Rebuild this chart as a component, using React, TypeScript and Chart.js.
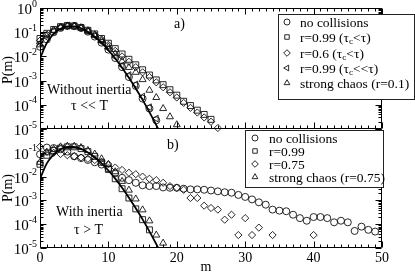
import React, { useEffect, useRef } from "react";
import { Chart, registerables } from "chart.js";
Chart.register(...registerables);

const FONT = "'Liberation Serif', 'Times New Roman', 'DejaVu Serif', serif";

// ---------- data ----------
const theoryM = [0, 0.25, 0.5, 1, 1.5, 2, 3, 4, 5, 6, 7, 8, 9, 10, 11, 12, 13, 14, 15, 16, 17, 18];
const theoryP = [0.008, 0.012, 0.018, 0.036, 0.058, 0.085, 0.14, 0.175, 0.175, 0.146, 0.104, 0.065, 0.036, 0.018, 0.0082, 0.0034, 0.0013, 0.00047, 0.00016, 0.00005, 0.0000145, 0.000004];

// panel a (m = 0, 1, 2, ...)
const aNoCollisions = [0.025, 0.05, 0.1, 0.15, 0.18, 0.18, 0.15, 0.105, 0.066, 0.037, 0.019, 0.0085, 0.0036, 0.0014, 0.0006, 0.00018, 0.00007, 0.000023];
const aR099 = [0.055, 0.09, 0.13, 0.17, 0.19, 0.18, 0.155, 0.12, 0.085, 0.055, 0.035, 0.021, 0.0126, 0.0076, 0.0045, 0.0028, 0.0017, 0.00107, 0.00068, 0.00042, 0.00025, 0.00014, 0.000093, 0.00006, 0.00004, 0.000025];
const aR06 = [0.045, 0.08, 0.12, 0.16, 0.18, 0.175, 0.15, 0.115, 0.08, 0.05, 0.03, 0.017, 0.01, 0.006, 0.0036, 0.0022, 0.0014, 0.00085, 0.00053, 0.00033, 0.0002, 0.00012, 0.000075, 0.000048, 0.00003, 0.00002, 0.000011];
const aR099short = [0.035, 0.06, 0.11, 0.16, 0.19, 0.185, 0.155, 0.11, 0.07, 0.04, 0.021, 0.0095, 0.0042, 0.0017, 0.0007, 0.00022, 0.00008, 0.000027];
const aStrongChaos = [0.03, 0.07, 0.12, 0.16, 0.18, 0.18, 0.155, 0.115, 0.075, 0.045, 0.025, 0.013, 0.0063, 0.0035, 0.0022, 0.0011, 0.0004, 0.0002, 0.00007, 0.000032, 0.000015];

// panel b
const bNoCollisions = [0.087, 0.166, 0.158, 0.141, 0.112, 0.071, 0.06, 0.05, 0.04, 0.032, 0.022, 0.014, 0.0089, 0.0071, 0.0055, 0.0043, 0.004, 0.004, 0.0035, 0.0034, 0.0034, 0.0031, 0.0029, 0.0029, 0.0028, 0.0026, 0.0024, 0.0022, 0.0021, 0.0017, 0.0014, 0.0011, 0.00083, 0.00066, 0.00041, 0.00037, 0.00035, 0.00025, 0.00018, 0.00014, 0.0002, 0.0002, 0.00018, 0.00012, 0.00014, 0.00012, 0.000052, 0.000079, 0.000058, 0.000049];
const bR099 = [0.033, 0.079, 0.126, 0.158, 0.178, 0.178, 0.15, 0.112, 0.071, 0.04, 0.02, 0.0081, 0.0031, 0.00126, 0.00044, 0.000155, 0.000058];
const bR075 = [0.18, 0.11, 0.1, 0.089, 0.079, 0.071, 0.063, 0.056, 0.05, 0.042, 0.033, 0.024, 0.019, 0.0145, 0.0126, 0.01, 0.0081, 0.0071, 0.0055, 0.004, 0.0034, 0.0028, 0.00126, 0.00126, 0.0006, 0.00048, 0.00041, 0.000155, 0.00025, 0.000035, 0.00018, 0.000035, 0.000072, null, 0.000035, null, null, null, null, null, 0.000035];
const bStrongChaos = [0.04, 0.1, 0.141, 0.178, 0.19, 0.19, 0.166, 0.126, 0.089, 0.056, 0.032, 0.016, 0.0063, 0.0027, 0.00115, 0.0004, 0.000138, 0.000035, 0.000016];

const xTickLabels = ["0", "10", "20", "30", "40", "50"];
const legendA = ["no collisions", "r=0.99 (τ_c<τ)", "r=0.6 (τ_c<τ)", "r=0.99 (τ_c<<τ)", "strong chaos (r=0.1)"];
const legendB = ["no collisions", "r=0.99", "r=0.75", "strong chaos (r=0.75)"];

// ---------- helpers ----------
const pts = (arr: (number | null)[]) =>
  arr.map((v, i) => (v == null ? null : { x: i, y: v })).filter(Boolean) as { x: number; y: number }[];

const marker = (data: (number | null)[], style: string, radius: number, rotation = 0) => ({
  data: pts(data),
  showLine: false,
  pointStyle: style,
  pointRadius: radius,
  pointRotation: rotation,
  pointBorderColor: "#111",
  pointBackgroundColor: "rgba(0,0,0,0)",
  pointBorderWidth: 0.9,
  clip: 8,
});

const theoryLine = () => ({
  data: theoryM.map((m, i) => ({ x: m, y: theoryP[i] })),
  showLine: true,
  borderColor: "#000",
  borderWidth: 1.8,
  pointRadius: 0,
  cubicInterpolationMode: "monotone",
  clip: 0,
});

function sym(ctx: CanvasRenderingContext2D, kind: string, x: number, y: number, s: number) {
  ctx.beginPath();
  if (kind === "circle") ctx.arc(x, y, s, 0, Math.PI * 2);
  else if (kind === "square") ctx.rect(x - s * 0.8, y - s * 0.8, s * 1.6, s * 1.6);
  else if (kind === "diamond") {
    ctx.moveTo(x, y - s); ctx.lineTo(x + s, y); ctx.lineTo(x, y + s); ctx.lineTo(x - s, y); ctx.closePath();
  } else if (kind === "tri") {
    ctx.moveTo(x, y - s); ctx.lineTo(x + s * 0.87, y + s * 0.5); ctx.lineTo(x - s * 0.87, y + s * 0.5); ctx.closePath();
  } else if (kind === "ltri") {
    ctx.moveTo(x - s, y); ctx.lineTo(x + s * 0.5, y - s * 0.87); ctx.lineTo(x + s * 0.5, y + s * 0.87); ctx.closePath();
  }
  ctx.stroke();
}

function richText(ctx: CanvasRenderingContext2D, text: string, x: number, y: number, size: number) {
  const parts = text.split("_");
  let cx = x;
  parts.forEach((p, i) => {
    let main = p;
    if (i > 0) {
      const sub = p.charAt(0);
      main = p.slice(1);
      ctx.font = `${size * 0.68}px ${FONT}`;
      ctx.fillText(sub, cx, y + 4);
      cx += ctx.measureText(sub).width;
    }
    ctx.font = `${size}px ${FONT}`;
    ctx.fillText(main, cx, y);
    cx += ctx.measureText(main).width;
  });
}

function frameAndTicks(chart: any, opt: { topLine: boolean; topTicks: boolean; decades: number[] }) {
  const { ctx, chartArea: a, scales } = chart;
  const xs = scales.x, ys = scales.y;
  const L = Math.round(a.left) + 0.5, R = Math.round(a.right) - 0.5;
  const T = Math.round(a.top) + 0.5, B = Math.round(a.bottom) - 0.5;
  ctx.save();
  ctx.strokeStyle = "#000";
  ctx.lineWidth = 1;
  ctx.beginPath();
  ctx.moveTo(L, T); ctx.lineTo(L, B); ctx.lineTo(R, B); ctx.lineTo(R, T);
  if (opt.topLine) ctx.lineTo(L, T);
  ctx.stroke();
  ctx.beginPath();
  for (let m = 0; m <= 50; m++) {
    const px = Math.round(xs.getPixelForValue(m)) + 0.5;
    const len = m % 10 === 0 ? 6 : 3;
    ctx.moveTo(px, B); ctx.lineTo(px, B - len);
    if (opt.topTicks) { ctx.moveTo(px, T); ctx.lineTo(px, T + len); }
  }
  for (let k = -5; k <= 0; k++) {
    for (let j = 1; j <= 9; j++) {
      if (k === 0 && j > 1) break;
      const v = j * Math.pow(10, k);
      const py = Math.round(ys.getPixelForValue(v)) + 0.5;
      if (py < T - 1 || py > B + 1) continue;
      const len = j === 1 ? 6 : 3;
      ctx.moveTo(L, py); ctx.lineTo(L + len, py);
      ctx.moveTo(R, py); ctx.lineTo(R - len, py);
    }
  }
  ctx.stroke();
  // y tick labels
  ctx.fillStyle = "#000";
  ctx.textBaseline = "middle";
  ctx.textAlign = "left";
  opt.decades.forEach((k) => {
    const py = ys.getPixelForValue(Math.pow(10, k));
    const e = k === 0 ? "0" : "-" + Math.abs(k);
    ctx.font = `10px ${FONT}`;
    const we = ctx.measureText(e).width;
    ctx.font = `15px ${FONT}`;
    const wb = ctx.measureText("10").width;
    const right = 37;
    ctx.fillText("10", right - we - wb, py + 2);
    ctx.font = `10px ${FONT}`;
    ctx.fillText(e, right - we, py - 4);
  });
  ctx.restore();
}

function drawLegend(ctx: CanvasRenderingContext2D, box: number[], rows: number[], symX: number, textX: number, labels: string[], kinds: string[]) {
  ctx.save();
  ctx.fillStyle = "#fff";
  ctx.strokeStyle = "#222";
  ctx.lineWidth = 1;
  ctx.fillRect(box[0], box[1], box[2], box[3]);
  ctx.strokeRect(box[0] + 0.5, box[1] + 0.5, box[2] - 1, box[3] - 1);
  ctx.fillStyle = "#000";
  ctx.strokeStyle = "#111";
  ctx.lineWidth = 0.9;
  ctx.textBaseline = "middle";
  ctx.textAlign = "left";
  labels.forEach((lab, i) => {
    const s = kinds[i] === "circle" ? 3 : kinds[i] === "square" ? 2.8 : 3.3;
    sym(ctx, kinds[i], symX, rows[i], s);
    richText(ctx, lab, textX, rows[i] + 1, 13.5);
  });
  ctx.restore();
}

function text(ctx: CanvasRenderingContext2D, s: string, x: number, y: number, size = 14, align: CanvasTextAlign = "left") {
  ctx.save();
  ctx.fillStyle = "#000";
  ctx.font = `${size}px ${FONT}`;
  ctx.textBaseline = "middle";
  ctx.textAlign = align;
  ctx.fillText(s, x, y);
  ctx.restore();
}

function vtext(ctx: CanvasRenderingContext2D, s: string, x: number, y: number, size = 14) {
  ctx.save();
  ctx.translate(x, y);
  ctx.rotate(-Math.PI / 2);
  ctx.fillStyle = "#000";
  ctx.font = `${size}px ${FONT}`;
  ctx.textBaseline = "middle";
  ctx.textAlign = "center";
  ctx.fillText(s, 0, 0);
  ctx.restore();
}

function baseOptions(padTop: number, padBottom: number) {
  return {
    animation: false,
    responsive: false,
    devicePixelRatio: 1,
    layout: { padding: { left: 40, right: 33, top: padTop, bottom: padBottom } },
    plugins: { legend: { display: false }, tooltip: { enabled: false } },
    scales: {
      x: { type: "linear", min: 0, max: 50, display: false },
      y: { type: "logarithmic", min: 1e-5, max: 1, display: false },
    },
  };
}

function Panel({ which }: { which: "a" | "b" }) {
  const ref = useRef<HTMLCanvasElement>(null);
  useEffect(() => {
    const isA = which === "a";
    const datasets: any[] = isA
      ? [
          theoryLine(),
          marker(aNoCollisions, "circle", 3.5),
          marker(aR099, "rect", 4.2),
          marker(aR06, "rectRot", 3.6),
          marker(aR099short, "triangle", 3.8, 270),
          marker(aStrongChaos, "triangle", 4),
        ]
      : [
          theoryLine(),
          marker(bNoCollisions, "circle", 3.5),
          marker(bR099, "rect", 4.2),
          marker(bR075, "rectRot", 3.6),
          marker(bStrongChaos, "triangle", 4),
        ];
    const deco = {
      id: "deco" + which,
      afterDraw(chart: any) {
        const ctx = chart.ctx as CanvasRenderingContext2D;
        if (isA) {
          frameAndTicks(chart, { topLine: true, topTicks: true, decades: [0, -1, -2, -3, -4, -5] });
          drawLegend(ctx, [278, 14, 137, 86], [22, 37, 53, 68, 83], 287, 300, legendA, ["circle", "square", "diamond", "ltri", "tri"]);
          text(ctx, "a)", 174, 24);
          text(ctx, "Without inertia", 47, 90);
          text(ctx, "τ << T", 71, 106);
          vtext(ctx, "P(m)", 8, 70);
        } else {
          frameAndTicks(chart, { topLine: false, topTicks: false, decades: [-1, -2, -3, -4, -5] });
          drawLegend(ctx, [245, 130, 139, 58], [138, 151, 164, 177], 255, 269, legendB, ["circle", "square", "diamond", "tri"]);
          text(ctx, "b)", 167, 145);
          text(ctx, "With inertia", 56, 212);
          text(ctx, "τ > T", 74, 230);
          vtext(ctx, "P(m)", 8, 188);
          const xs = chart.scales.x;
          xTickLabels.forEach((t) => text(ctx, t, xs.getPixelForValue(Number(t)), 258, 14, "center"));
          text(ctx, "m", 206, 267, 14, "center");
        }
      },
    };
    const chart = new Chart(ref.current!, {
      type: "scatter",
      data: { datasets },
      options: isA ? (baseOptions(8, 272 - 129) as any) : (baseOptions(129, 272 - 248) as any),
      plugins: [deco],
    });
    return () => chart.destroy();
  }, [which]);
  return (
    <canvas
      ref={ref}
      width={415}
      height={272}
      style={{ position: "absolute", left: 0, top: 0, width: 415, height: 272 }}
    />
  );
}

export default function App() {
  return (
    <div style={{ position: "fixed", left: 0, top: 0, width: 415, height: 272, background: "#fff", overflow: "hidden" }}>
      <Panel which="a" />
      <Panel which="b" />
    </div>
  );
}
